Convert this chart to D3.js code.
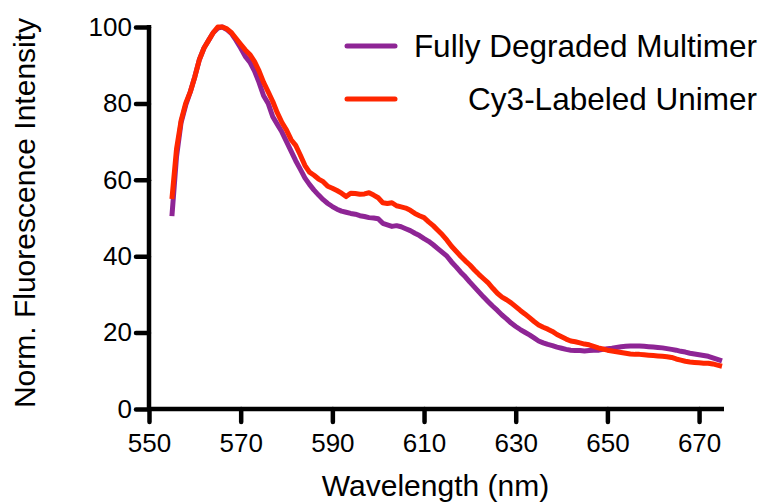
<!DOCTYPE html>
<html lang="en">
<head>
  <meta charset="UTF-8">
  <title>Fluorescence spectra</title>
  <script src="https://d3js.org/d3.v7.min.js"></script>
  <style>
    body { margin: 0; background: #fff; }
    svg { display: block; font-family: "Liberation Sans", Arial, sans-serif; }
  </style>
</head>
<body>
  <svg width="765" height="503"></svg>

  <script>
    // wavelength grid (nm), 1 nm steps
    const wavelengths = d3.range(555, 676);

    const multimer = [
      50.5, 66, 75, 79.5, 83, 87, 91.5, 94.5, 96.5, 98.5,
      99.7, 100, 99.3, 98.3, 96.5, 94.5, 92.3, 90.8, 88.5, 85.5,
      82, 80, 76.5, 74.5, 72.5, 70, 67.5, 65, 62.8, 60.5,
      58.8, 57.3, 56, 54.8, 53.8, 53, 52.3, 51.8, 51.5, 51.2,
      51, 50.6, 50.4, 50.1, 50, 49.8, 48.6, 48.2, 47.8, 48,
      47.7, 47.2, 46.7, 46, 45.4, 44.6, 43.9, 43, 42, 41,
      40, 38.5, 37.2, 35.8, 34.6, 33.2, 31.9, 30.6, 29.3, 28.1,
      26.9, 25.8, 24.6, 23.6, 22.5, 21.6, 20.8, 20.1, 19.4, 18.6,
      17.8, 17.3, 16.9, 16.6, 16.2, 15.9, 15.6, 15.4, 15.3, 15.3,
      15.2, 15.3, 15.4, 15.4, 15.6, 15.8, 15.9, 16.1, 16.3, 16.4,
      16.5, 16.5, 16.5, 16.4, 16.3, 16.2, 16.1, 16, 15.8, 15.6,
      15.4, 15.1, 14.9, 14.6, 14.4, 14.2, 14, 13.8, 13.4, 13,
      12.6
    ];

    const unimer = [
      55, 68, 75.5, 80, 83, 87, 91.5, 94.5, 96.5, 98.5,
      100, 100, 99.5, 98.5, 97, 95.5, 94, 92.8, 91, 88.5,
      85.5, 83, 80.5, 77.5, 75, 73, 70.5, 69, 66.5, 63.8,
      62, 61.2, 60.2, 59.5, 58.3, 57.8, 57.2, 56.5, 55.6, 56.5,
      56.4, 56.2, 56.3, 56.6, 56, 55.3, 54, 53.8, 54, 53.2,
      52.9, 52.6, 52, 51.2, 50.6, 50.1, 49, 48, 46.8, 45.6,
      44.2, 42.6, 41.3, 40, 38.8, 37.7, 36.4, 35.2, 34.1, 33,
      31.6, 30.3, 29.3, 28.6, 27.8, 26.8, 25.8, 24.9, 23.9, 22.9,
      22, 21.4, 20.9, 20.3, 19.5, 18.9, 18.3, 17.8, 17.6, 17.3,
      17, 16.8, 16.4, 16, 15.7, 15.4, 15.2, 15, 14.8, 14.6,
      14.4, 14.3, 14.3, 14.2, 14.1, 14, 13.9, 13.8, 13.7, 13.5,
      13.1, 12.8, 12.5, 12.3, 12.2, 12.1, 12, 12, 11.8, 11.5,
      11.2
    ];

    const seriesNames = ["Fully Degraded Multimer", "Cy3-Labeled Unimer"];
    const seriesColors = ["#8e2595", "#ff2600"];
    const xTicks = [550, 570, 590, 610, 630, 650, 670];
    const yTicks = [0, 20, 40, 60, 80, 100];

    const svg = d3.select("svg");
    const plotLeft = 149, plotRight = 722, plotTop = 27, plotBottom = 409;

    const x = d3.scaleLinear().domain([550, 675]).range([plotLeft, plotRight]);
    const y = d3.scaleLinear().domain([0, 100]).range([plotBottom, plotTop]);

    // axes
    const xAxis = svg.append("g")
      .attr("transform", `translate(0,${plotBottom})`)
      .call(d3.axisBottom(x).tickValues(xTicks).tickSize(13).tickSizeOuter(0).tickPadding(12));

    const yAxis = svg.append("g")
      .attr("transform", `translate(${plotLeft},0)`)
      .call(d3.axisLeft(y).tickValues(yTicks).tickSize(13).tickSizeOuter(0).tickPadding(4));

    [xAxis, yAxis].forEach(g => {
      g.select(".domain").attr("stroke", "#000").attr("stroke-width", 4.5);
      g.selectAll(".tick line").attr("stroke", "#000").attr("stroke-width", 4.5)
        .attr("stroke-linecap", "round");
      g.selectAll(".tick text").attr("fill", "#000")
        .style("font-size", "26px").style("font-family", "Liberation Sans, Arial, sans-serif");
    });
    yAxis.select(".domain").attr("d", `M0,${y(100) - 2}V${plotBottom + 2}`);
    xAxis.select(".domain").attr("d", `M${plotLeft - 2},0H${plotRight + 2}`);

    // axis titles
    svg.append("text")
      .attr("x", (plotLeft + plotRight) / 2)
      .attr("y", 496)
      .attr("text-anchor", "middle")
      .style("font-size", "30px")
      .text("Wavelength (nm)");

    svg.append("text")
      .attr("transform", "translate(35,213) rotate(-90)")
      .attr("text-anchor", "middle")
      .style("font-size", "30px")
      .text("Norm. Fluorescence Intensity");

    // lines
    const line = d3.line()
      .x((d, i) => x(wavelengths[i]))
      .y(d => y(d));

    [multimer, unimer].forEach((vals, i) => {
      svg.append("path")
        .datum(vals)
        .attr("fill", "none")
        .attr("stroke", seriesColors[i])
        .attr("stroke-width", 5)
        .attr("stroke-linejoin", "round")
        .attr("d", line);
    });

    // legend
    const legend = svg.append("g");
    const legendY = [46, 99];
    seriesNames.forEach((name, i) => {
      legend.append("line")
        .attr("x1", 347).attr("x2", 395)
        .attr("y1", legendY[i]).attr("y2", legendY[i])
        .attr("stroke", seriesColors[i])
        .attr("stroke-width", 5)
        .attr("stroke-linecap", "round");
      legend.append("text")
        .attr("x", 757)
        .attr("y", legendY[i] + 11)
        .attr("text-anchor", "end")
        .style("font-size", "31.5px")
        .text(name);
    });
  </script>
</body>
</html>
